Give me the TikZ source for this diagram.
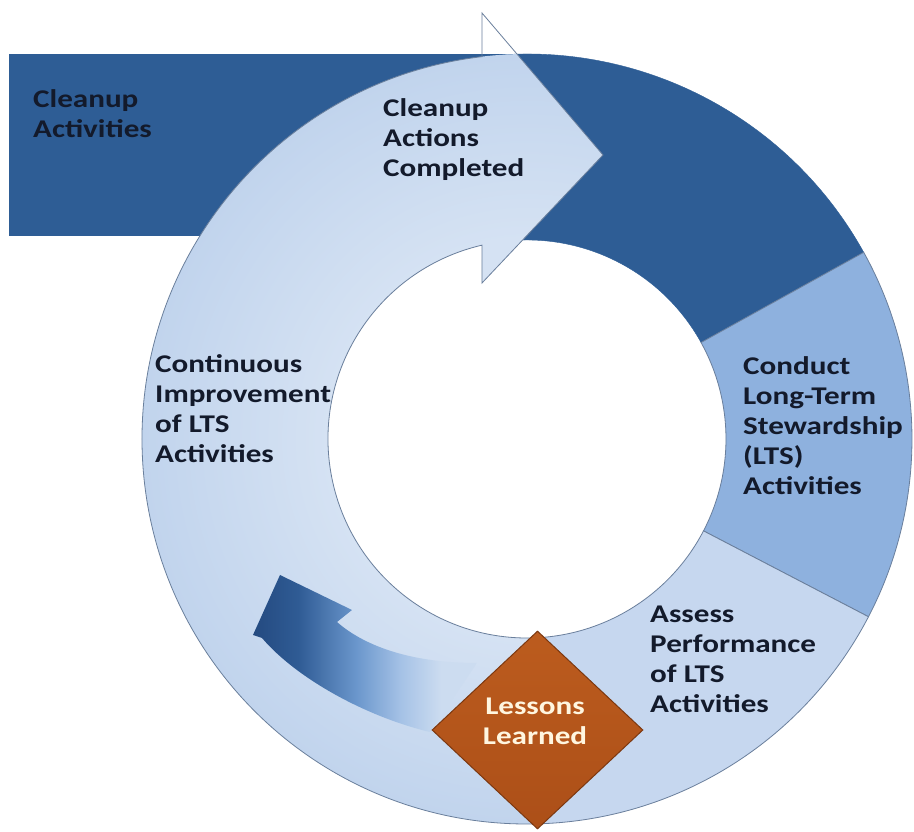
\documentclass[tikz,border=0pt]{standalone}
\usepackage{fontspec}
\setmainfont{Carlito}[FakeStretch=1.22]
\usetikzlibrary{shapes.geometric}
\definecolor{darkband}{HTML}{2E5D95}
\definecolor{midband}{HTML}{8EB1DE}
\definecolor{assessband}{HTML}{C6D7EF}
\definecolor{ringin}{HTML}{D5E2F3}
\definecolor{ringout}{HTML}{C1D4ED}
\definecolor{edgeline}{HTML}{6A7F9C}
\definecolor{txt}{HTML}{131A2B}
\definecolor{arrowdark}{HTML}{244A80}
\definecolor{arrowdarkb}{HTML}{2F5B94}
\definecolor{arrowmid}{HTML}{6A96CC}
\definecolor{arrowpale}{HTML}{A5C2E6}
\definecolor{ringtail}{HTML}{CCDCF0}
\definecolor{orangetop}{HTML}{BC5C1E}
\definecolor{orangebot}{HTML}{AC4F18}
\definecolor{orangeedge}{HTML}{7C3810}
\definecolor{cream}{HTML}{FFF6E0}
\pgfdeclareradialshading{ringshade}{\pgfpoint{0bp}{0bp}}{color(0bp)=(ringin); color(12.9bp)=(ringin); color(25bp)=(ringout); color(50bp)=(ringout)}
\pgfdeclarehorizontalshading{fbshade}{100bp}{color(0bp)=(arrowdark); color(25bp)=(arrowdark); color(35bp)=(arrowdarkb); color(48bp)=(arrowmid); color(58bp)=(arrowpale); color(67bp)=(ringtail); color(100bp)=(ringtail)}
\begin{document}
\begin{tikzpicture}[x=1pt,y=1pt,
  lbl/.style={font=\fontsize{25.5}{30}\selectfont\bfseries, text=txt, align=left, inner sep=0pt, anchor=base west},
  seg/.style={draw=edgeline, line width=0.8pt}]
\useasboundingbox (-527,-393) rectangle (387,439);
\fill[white] (-527,-393) rectangle (387,439);
% dark band: rectangle plus ring segment
\fill[darkband] (-518,203) rectangle (-22,385);
\filldraw[fill=darkband, draw=darkband] (29:385) arc[start angle=29,end angle=100,radius=385] -- (100:199) arc[start angle=100,end angle=29,radius=199] -- cycle;
% conduct segment
\filldraw[seg, fill=midband] (-27.5:385) arc[start angle=-27.5,end angle=29,radius=385] -- (29:199) arc[start angle=29,end angle=-27.5,radius=199] -- cycle;
% assess segment
\filldraw[seg, fill=assessband] (-88:385) arc[start angle=-88,end angle=-27.5,radius=385] -- (-27.5:199) arc[start angle=-27.5,end angle=-88,radius=199] -- cycle;
% big circular arrow
\begin{scope}
\clip (272:385) arc[start angle=272,end angle=96.71,radius=385] -- (-45,426) -- (76,284) -- (-45,156) -- (103.07:199) arc[start angle=103.07,end angle=272,radius=199] -- cycle;
\shade[shading=ringshade] (0,0) circle (385);
\end{scope}
\draw[seg] (272:385) arc[start angle=272,end angle=96.71,radius=385] -- (-45,426) -- (76,284) -- (-45,156) -- (103.07:199) arc[start angle=103.07,end angle=272,radius=199];
% curved feedback arrow
\shade[shading=fbshade] (-247,-136) -- (-175,-171) -- (-190,-183) .. controls (-165,-205) and (-120,-224) .. (-50,-224) -- (-97,-293) .. controls (-160,-278) and (-230,-240) .. (-265,-199) -- (-274,-196) -- cycle;
% lessons learned diamond
\node[diamond, aspect=1.066, minimum width=211, minimum height=198, inner sep=0pt, top color=orangetop, bottom color=orangebot, draw=orangeedge, line width=1pt] (lessons) at (10.5,-291) {};
\node[font=\fontsize{25.5}{30}\selectfont\bfseries, text=cream, align=center, inner sep=0pt, anchor=base] (lessonslbl) at (8,-306) {Lessons\\Learned};
% labels (anchor = baseline of last line)
\node[lbl] (cleanact) at (-494,301) {Cleanup\\Activities};
\node[lbl] (cleandone) at (-144,262) {Cleanup\\Actions\\Completed};
\node[lbl] (contimp) at (-372,-24) {Continuous\\Improvement\\of LTS\\Activities};
\node[lbl] (conduct) at (216,-56) {Conduct\\Long-Term\\Stewardship\\(LTS)\\Activities};
\node[lbl] (assess) at (123,-274) {Assess\\Performance\\of LTS\\Activities};
\end{tikzpicture}
\end{document}
